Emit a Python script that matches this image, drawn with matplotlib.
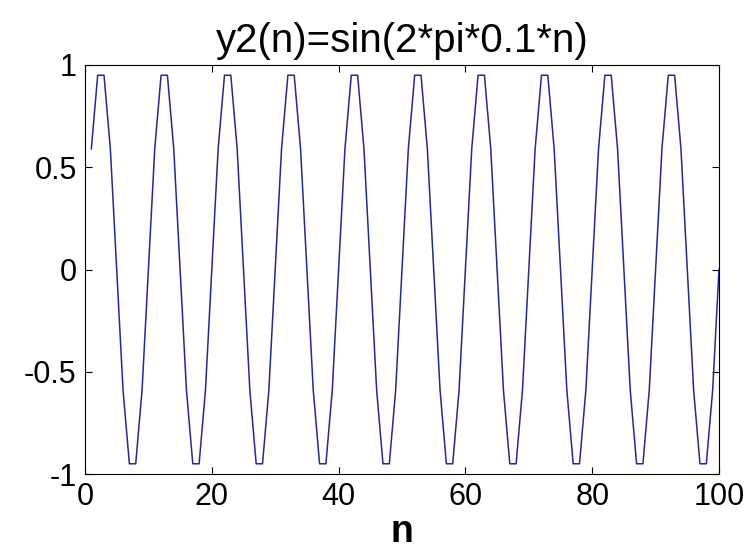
import numpy as np
import matplotlib
matplotlib.use("Agg")
import matplotlib.pyplot as plt

# samples n = 1..100
n = list(range(1, 101))
y2 = [
    0.59, 0.95, 0.95, 0.59, 0.00, -0.59, -0.95, -0.95, -0.59, 0.00,
    0.59, 0.95, 0.95, 0.59, 0.00, -0.59, -0.95, -0.95, -0.59, 0.00,
    0.59, 0.95, 0.95, 0.59, 0.00, -0.59, -0.95, -0.95, -0.59, 0.00,
    0.59, 0.95, 0.95, 0.59, 0.00, -0.59, -0.95, -0.95, -0.59, 0.00,
    0.59, 0.95, 0.95, 0.59, 0.00, -0.59, -0.95, -0.95, -0.59, 0.00,
    0.59, 0.95, 0.95, 0.59, 0.00, -0.59, -0.95, -0.95, -0.59, 0.00,
    0.59, 0.95, 0.95, 0.59, 0.00, -0.59, -0.95, -0.95, -0.59, 0.00,
    0.59, 0.95, 0.95, 0.59, 0.00, -0.59, -0.95, -0.95, -0.59, 0.00,
    0.59, 0.95, 0.95, 0.59, 0.00, -0.59, -0.95, -0.95, -0.59, 0.00,
    0.59, 0.95, 0.95, 0.59, 0.00, -0.59, -0.95, -0.95, -0.59, 0.00,
]
xticks = [0, 20, 40, 60, 80, 100]
yticks = [-1, -0.5, 0, 0.5, 1]
yticklabels = ['-1', '-0.5', '0', '0.5', '1']

plt.rcParams['font.family'] = ['Liberation Sans', 'DejaVu Sans']

fig = plt.figure(figsize=(7.51, 5.55), dpi=100)
# axes box: left 85, right 719, top 65, bottom 474 (pixels)
ax = fig.add_axes([85/751, 1 - 474/555, (719-85)/751, (474-65)/555])

ax.plot(n, y2, color='#2626a0', linewidth=1.1)

ax.set_xlim(0, 100)
ax.set_ylim(-1, 1)
ax.set_xticks(xticks)
ax.set_yticks(yticks)
ax.set_yticklabels(yticklabels)
ax.tick_params(direction='in', length=5, labelsize=22, top=True, right=True, pad=6)

ax.set_title('y2(n)=sin(2*pi*0.1*n)', fontsize=29, pad=9)
ax.set_xlabel('n', fontsize=27, fontweight='bold', labelpad=1)

fig.savefig('out.png', dpi=100)
